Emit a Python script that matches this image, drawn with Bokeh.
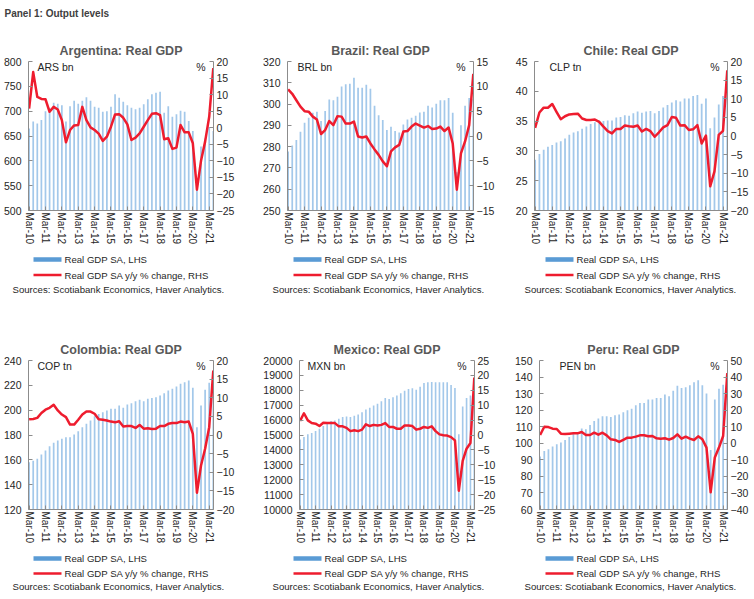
from bokeh.plotting import figure
from bokeh.models import Range1d, LinearAxis, FixedTicker, Label
from bokeh.layouts import column, row
from bokeh.embed import file_html
from bokeh.resources import INLINE
from bokeh.core.properties import value

# ---------------- data ----------------
panel_title = "Panel 1: Output levels"
year_labels = ["Mar-10", "Mar-11", "Mar-12", "Mar-13", "Mar-14", "Mar-15",
               "Mar-16", "Mar-17", "Mar-18", "Mar-19", "Mar-20", "Mar-21"]
legend_labels = ["Real GDP SA, LHS", "Real GDP SA y/y % change, RHS"]
source_note = "Sources: Scotiabank Economics, Haver Analytics."

countries = ["Argentina", "Brazil", "Chile", "Colombia", "Mexico", "Peru"]
units = ["ARS bn", "BRL bn", "CLP tn", "COP tn", "MXN bn", "PEN bn"]

arg_gdp = [665, 679, 675, 682, 700, 707, 717, 715, 712, 679,
           710, 721, 715, 721, 728, 721, 709, 707, 699, 700,
           709, 734, 727, 719, 712, 707, 704, 707, 714, 724,
           734, 737, 739, 697, 710, 689, 694, 701, 699, 680,
           660, 565, 629, 645, 668, 660]
arg_yoy = [5.8, 16.8, 9.3, 8.7, 8.6, 4.8, 6.3, 5.5, 2.3, -4.4,
           -0.7, 0.7, 0.8, 6.3, 2.3, 0.1, -0.7, -1.8, -4.0, -2.7,
           0.3, 4.0, 4.1, 3.0, 1.0, -3.7, -3.0, -1.7, 0.3, 2.3,
           4.2, 4.4, 3.8, -3.5, -3.2, -6.4, -6.0, 0.8, -1.4, -1.4,
           -4.7, -18.7, -10.0, -4.2, 3.3, 18.0]

bra_gdp = [277.7, 280.5, 283.1, 287.0, 291.2, 293.6, 295.9, 296.4, 292.0, 296.8,
           302.1, 301.8, 303.4, 308.3, 309.3, 309.6, 312.4, 307.7, 307.7, 309.1,
           307.2, 299.2, 294.8, 292.5, 287.8, 289.4, 287.3, 286.7, 290.4, 292.8,
           293.6, 294.5, 296.0, 296.4, 299.2, 298.4, 300.2, 301.8, 301.8, 302.9,
           295.9, 268.0, 290.1, 299.2, 302.9, 302.5]
bra_yoy = [9.4, 8.5, 7.2, 5.9, 5.0, 4.9, 3.9, 3.3, 0.4, 1.2,
           3.0, 2.2, 4.0, 3.9, 2.5, 2.5, 2.9, -0.1, -0.3, -0.1,
           -1.5, -2.7, -3.8, -5.1, -6.1, -3.1, -2.3, -1.8, 0.9, 1.0,
           1.9, 2.5, 2.1, 1.7, 2.0, 1.4, 1.5, 1.9, 1.0, 1.7,
           -1.5, -10.8, -3.5, -1.1, 2.2, 12.5]

chl_gdp = [28.5, 29.5, 30.2, 30.7, 31.0, 31.4, 31.6, 32.1, 32.7, 33.1,
           33.3, 33.7, 34.1, 34.5, 34.8, 35.1, 35.0, 35.1, 35.1, 35.6,
           35.7, 36.0, 35.9, 36.3, 36.6, 36.4, 36.6, 36.7, 36.3, 36.7,
           37.3, 37.7, 38.1, 38.5, 38.3, 38.8, 38.8, 39.2, 39.4, 37.9,
           38.8, 33.8, 35.6, 37.8, 39.2, 40.0]
chl_yoy = [2.2, 6.3, 7.6, 7.6, 8.6, 6.5, 4.5, 5.3, 5.8, 5.9,
           6.0, 4.7, 4.3, 4.3, 4.4, 3.8, 2.5, 1.3, 0.7, 1.9,
           1.9, 2.8, 2.6, 2.5, 2.8, 1.2, 1.9, 1.3, -0.2, 1.0,
           2.3, 2.9, 5.1, 4.9, 2.8, 2.9, 1.6, 1.8, 2.9, -2.0,
           0.1, -13.5, -9.5, 0.3, 1.4, 17.6]

col_gdp = [158.1, 159.2, 160.8, 164.3, 167.5, 171.0, 173.7, 175.6, 176.9, 178.2,
           178.2, 180.4, 183.1, 186.3, 189.0, 191.7, 195.2, 197.0, 198.4, 199.7,
           201.1, 201.1, 203.8, 201.9, 204.6, 205.6, 207.2, 208.3, 207.2, 209.1,
           209.7, 210.5, 211.8, 213.7, 215.8, 217.2, 219.1, 221.2, 222.5, 223.9,
           218.0, 186.3, 203.8, 216.4, 222.0, 219.0]
col_yoy = [4.2, 4.3, 4.6, 5.9, 6.8, 7.3, 8.1, 6.6, 5.5, 4.8,
           2.8, 2.8, 4.1, 5.5, 6.3, 6.3, 5.7, 4.2, 4.1, 3.9,
           3.6, 3.4, 3.7, 2.3, 2.4, 2.4, 1.9, 2.7, 1.7, 1.8,
           1.6, 1.7, 2.4, 2.4, 3.0, 3.2, 3.2, 3.6, 3.4, 3.6,
           0.3, -15.5, -8.2, -3.7, 2.1, 17.3]

mex_gdp = [14700, 14867, 15044, 15133, 15267, 15422, 15600, 15756, 15933, 15978,
           16089, 16200, 16244, 16200, 16289, 16378, 16533, 16711, 16822, 16978,
           17089, 17267, 17489, 17422, 17533, 17644, 17800, 17978, 18089, 18133,
           18044, 18244, 18489, 18533, 18556, 18533, 18533, 18533, 18533, 18356,
           18156, 15044, 16911, 17489, 17644, 17800]
mex_yoy = [4.7, 7.3, 4.9, 4.0, 3.8, 3.0, 4.1, 4.0, 4.0, 4.0,
           2.9, 2.9, 2.4, 1.3, 1.6, 1.3, 1.8, 3.6, 3.0, 3.4,
           3.2, 3.4, 4.0, 2.7, 2.7, 2.1, 2.1, 3.2, 3.2, 3.0,
           1.8, 2.1, 2.7, 2.4, 2.9, 1.3, 0.2, -0.1, -0.2, -0.7,
           -1.8, -18.7, -8.7, -4.6, -2.7, 19.3]

per_gdp = [92.0, 95.4, 96.4, 98.0, 99.4, 100.4, 102.0, 103.8, 105.8, 106.4,
           109.0, 108.4, 111.0, 113.4, 115.0, 116.4, 116.4, 115.8, 117.0, 117.4,
           118.8, 120.0, 120.8, 123.0, 124.4, 124.4, 126.4, 126.4, 127.4, 127.4,
           129.4, 128.4, 131.8, 134.8, 133.4, 133.8, 135.0, 136.8, 138.0, 135.0,
           130.0, 96.0, 126.4, 133.0, 135.4, 134.0]
per_yoy = [5.0, 10.0, 9.8, 8.8, 8.6, 5.8, 5.6, 5.8, 6.0, 6.0,
           6.8, 5.0, 5.0, 6.4, 5.2, 6.4, 4.8, 2.4, 2.0, 0.8,
           2.0, 3.4, 3.4, 4.0, 4.8, 4.8, 4.2, 4.4, 3.0, 2.8,
           3.0, 2.2, 3.2, 5.4, 2.8, 4.0, 2.8, 2.0, 4.2, 2.4,
           -2.6, -29.6, -8.6, -2.6, 4.4, 42.4]

arg_lhs_ticks = [500, 550, 600, 650, 700, 750, 800]
arg_rhs_ticks = [-25, -20, -15, -10, -5, 0, 5, 10, 15, 20]
bra_lhs_ticks = [250, 260, 270, 280, 290, 300, 310, 320]
bra_rhs_ticks = [-15, -10, -5, 0, 5, 10, 15]
chl_lhs_ticks = [20, 25, 30, 35, 40, 45]
chl_rhs_ticks = [-20, -15, -10, -5, 0, 5, 10, 15, 20]
col_lhs_ticks = [120, 140, 160, 180, 200, 220, 240]
col_rhs_ticks = [-20, -15, -10, -5, 0, 5, 10, 15, 20]
mex_lhs_ticks = [10000, 11000, 12000, 13000, 14000, 15000, 16000, 17000, 18000, 19000, 20000]
mex_rhs_ticks = [-25, -20, -15, -10, -5, 0, 5, 10, 15, 20, 25]
per_lhs_ticks = [60, 70, 80, 90, 100, 110, 120, 130, 140, 150]
per_rhs_ticks = [-40, -30, -20, -10, 0, 10, 20, 30, 40, 50]

# ---------------- style ----------------
FONT = "Liberation Sans"
BAR = "#a3c8ea"
LEGEND_BAR = "#5a9bd5"
RED = "#ee1c2e"
AXIS = "#8c8c8c"
TEXT = "#262626"
TITLE = "#595959"
FRAME_H = 150
BOTTOM = 36


def make_chart(title, unit, gdp, yoy, lhs_ticks, rhs_ticks, width, left, right, top, unit_dx):
    n = len(gdp)
    xs = list(range(n))
    x0, x1 = -0.15, n - 0.95
    p = figure(width=width, height=top + FRAME_H + BOTTOM, title=title,
               x_range=Range1d(x0, x1),
               y_range=Range1d(lhs_ticks[0], lhs_ticks[-1]),
               output_backend="svg", toolbar_location=None,
               min_border_left=left, min_border_right=right,
               min_border_top=top, min_border_bottom=BOTTOM)
    p.extra_y_ranges = {"pct": Range1d(rhs_ticks[0], rhs_ticks[-1])}
    p.grid.visible = False
    p.outline_line_color = None

    p.title.align = "center"
    p.title.text_font = FONT
    p.title.text_font_size = "12.5px"
    p.title.text_font_style = "bold"
    p.title.text_color = TITLE
    p.title.standoff = 8

    p.vbar(x=xs, top=gdp, bottom=lhs_ticks[0], width=0.42,
           fill_color=BAR, line_color=None)
    p.line(xs, yoy, y_range_name="pct", line_color=RED, line_width=2.5,
           line_join="round")

    right_ax = LinearAxis(y_range_name="pct", ticker=FixedTicker(ticks=rhs_ticks))
    p.add_layout(right_ax, "right")

    xa = p.xaxis[0]
    ya = p.yaxis[0]
    xa.ticker = FixedTicker(ticks=[4 * i for i in range(len(year_labels))])
    xa.major_label_overrides = {4 * i: lbl for i, lbl in enumerate(year_labels)}
    xa.major_label_orientation = "vertical"
    ya.ticker = FixedTicker(ticks=lhs_ticks)

    for ax, standoff, fs in ((xa, 2, "10px"), (ya, 7, "10.5px"), (right_ax, 3, "10.5px")):
        ax.axis_line_color = AXIS
        ax.major_tick_line_color = AXIS
        ax.minor_tick_line_color = None
        ax.major_tick_in = 4
        ax.major_tick_out = 0
        ax.major_label_standoff = standoff
        ax.major_label_text_font = FONT
        ax.major_label_text_font_size = fs
        ax.major_label_text_color = TEXT

    p.add_layout(Label(x=x0, y=lhs_ticks[-1], x_offset=unit_dx, y_offset=-5,
                       text=unit, text_baseline="middle", text_align="left",
                       text_font=FONT, text_font_size="10.5px", text_color=TEXT))
    p.add_layout(Label(x=x1, y=lhs_ticks[-1], x_offset=-8, y_offset=-5,
                       text="%", text_baseline="middle", text_align="right",
                       text_font=FONT, text_font_size="10.5px", text_color=TEXT))
    return p


def make_legend(width, height, src_x, ys):
    q = figure(width=width, height=height, x_range=Range1d(0, width),
               y_range=Range1d(height, 0), x_axis_location=None, y_axis_location=None,
               min_border=0, toolbar_location=None, output_backend="svg", title=None)
    q.grid.visible = False
    q.outline_line_color = None
    q.quad(left=[src_x + 21], right=[src_x + 49], top=[ys[0] - 2.3], bottom=[ys[0] + 2.3],
           fill_color=LEGEND_BAR, line_color=None)
    q.line(x=[src_x + 21, src_x + 49], y=[ys[1], ys[1]], line_color=RED, line_width=2.5)
    q.text(x=[src_x + 52, src_x + 52], y=ys[:2], text=legend_labels,
           text_baseline="middle", text_align="left", text_font=value(FONT),
           text_font_size="9.6px", text_color=TEXT)
    q.text(x=[src_x], y=[ys[2]], text=[source_note],
           text_baseline="middle", text_align="left", text_font=value(FONT),
           text_font_size="9.6px", text_color=TEXT)
    return q


def title_of(i):
    return countries[i] + ": Real GDP"


# header
head = figure(width=754, height=30, x_range=Range1d(0, 754), y_range=Range1d(30, 0),
              x_axis_location=None, y_axis_location=None, min_border=0,
              toolbar_location=None, output_backend="svg", title=None)
head.grid.visible = False
head.outline_line_color = None
head.text(x=[4], y=[13], text=[panel_title], text_baseline="middle", text_align="left",
          text_font=value(FONT), text_font_size="10px", text_font_style="bold",
          text_color="#404040")

#              title        unit      data              ticks                           w    l   r   top ux
c1 = make_chart(title_of(0), units[0], arg_gdp, arg_yoy, arg_lhs_ticks, arg_rhs_ticks, 250, 27, 37, 31, 9)
c2 = make_chart(title_of(1), units[1], bra_gdp, bra_yoy, bra_lhs_ticks, bra_rhs_ticks, 250, 37, 27, 31, 10)
c3 = make_chart(title_of(2), units[2], chl_gdp, chl_yoy, chl_lhs_ticks, chl_rhs_ticks, 254, 34, 27, 31, 15)
c4 = make_chart(title_of(3), units[3], col_gdp, col_yoy, col_lhs_ticks, col_rhs_ticks, 250, 27, 37, 60, 9)
c5 = make_chart(title_of(4), units[4], mex_gdp, mex_yoy, mex_lhs_ticks, mex_rhs_ticks, 250, 49, 26, 60, 8)
c6 = make_chart(title_of(5), units[5], per_gdp, per_yoy, per_lhs_ticks, per_rhs_ticks, 254, 39, 27, 60, 20)

l1 = make_legend(250, 53, 12, [12, 27.5, 42])
l2 = make_legend(250, 53, 22, [12, 27.5, 42])
l3 = make_legend(254, 53, 24, [12, 27.5, 42])
l4 = make_legend(250, 53, 12, [12, 27, 40])
l5 = make_legend(250, 53, 22, [12, 27, 40])
l6 = make_legend(254, 53, 24, [12, 27, 40])

layout = column(head,
                row(c1, c2, c3), row(l1, l2, l3),
                row(c4, c5, c6), row(l4, l5, l6))

open("out.html", "w").write(file_html(layout, INLINE))
